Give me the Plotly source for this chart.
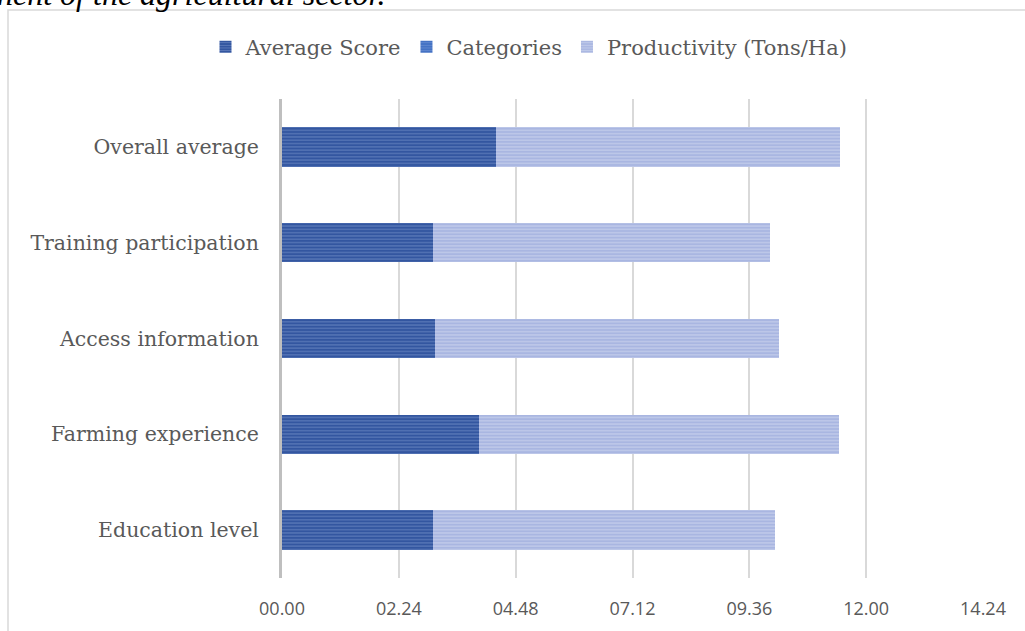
import plotly.graph_objects as go

categories = ["Education level", "Farming experience", "Access information", "Training participation", "Overall average"]
average_score = [3.10, 4.04, 3.14, 3.10, 4.39]
categories_vals = [0, 0, 0, 0, 0]
productivity = [7.03, 7.40, 7.07, 6.92, 7.08]
tick_vals = [0, 2.4, 4.8, 7.2, 9.6, 12.0, 14.4]
tick_text = ["00.00", "02.24", "04.48", "07.12", "09.36", "12.00", "14.24"]

L, R, T, B = 282, 42, 99, 53
W, H = 1025, 631
PW, PH = W - L - R, H - T - B

def px_x(p):
    return (p - L) / PW

def px_y(p):
    return (H - B - p) / PH

fig = go.Figure()
fig.add_trace(go.Bar(
    y=categories, x=average_score, orientation="h", name="Average Score",
    marker=dict(color="#3356A0", line=dict(width=0),
                pattern=dict(shape="-", fgcolor="#87A0D4", size=3.3, solidity=0.35)),
))
fig.add_trace(go.Bar(
    y=categories, x=categories_vals, orientation="h", name="Categories",
    marker=dict(color="#4472C4", line=dict(width=0),
                pattern=dict(shape="-", fgcolor="#7E9DDA", size=3.3, solidity=0.35)),
))
fig.add_trace(go.Bar(
    y=categories, x=productivity, orientation="h", name="Productivity (Tons/Ha)",
    marker=dict(color="#A9B6E1", line=dict(width=0),
                pattern=dict(shape="-", fgcolor="#D9E0F3", size=3.3, solidity=0.4)),
))

fig.update_layout(
    width=W, height=H,
    barmode="stack", bargap=0.59,
    paper_bgcolor="white", plot_bgcolor="white",
    margin=dict(l=L, r=R, t=T, b=B, autoexpand=False),
    legend=dict(orientation="h", x=px_x(529), xanchor="center", y=px_y(47), yanchor="middle",
                font=dict(family="DejaVu Serif", size=21, color="#595959"),
                traceorder="normal", itemwidth=30),
    showlegend=True,
    font=dict(family="DejaVu Serif", color="#595959"),
)
fig.update_xaxes(range=[0, 14.4], tickvals=tick_vals, ticktext=tick_text,
                 showgrid=True, gridcolor="#D9D9D9", gridwidth=1.5, zeroline=False,
                 tickfont=dict(family="Open Sans", size=18, color="#595959"),
                 ticks="outside", ticklen=14, tickcolor="rgba(0,0,0,0)",
                 showline=False, automargin=False)
fig.update_yaxes(showgrid=False, showline=True, linecolor="#BFBFBF", linewidth=3,
                 tickfont=dict(family="DejaVu Serif", size=20.5, color="#595959"),
                 ticks="outside", ticklen=16, tickcolor="rgba(0,0,0,0)", automargin=False)

fig.add_shape(type="rect", xref="paper", yref="paper",
              x0=px_x(8), x1=px_x(1035), y0=px_y(640), y1=px_y(10),
              line=dict(color="#D9D9D9", width=1.5), fillcolor="rgba(0,0,0,0)", layer="below")
fig.add_annotation(text="<i>nent of the agricultural sector.</i>", xref="paper", yref="paper",
                   x=px_x(-5), y=px_y(14), xanchor="left", yanchor="bottom", showarrow=False,
                   font=dict(family="Liberation Serif", size=32, color="#000000"))
fig.write_html("out.html", config={"displayModeBar": False},
               post_script="document.body.style.margin='0px';")
